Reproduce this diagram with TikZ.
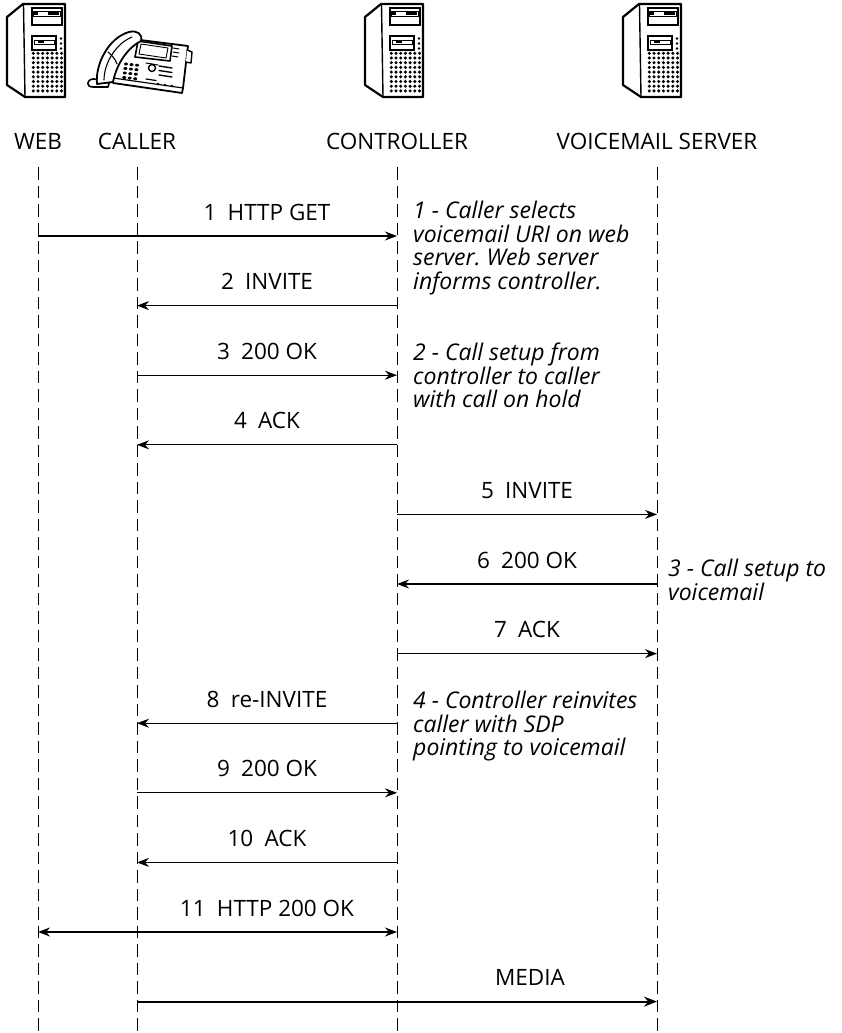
\documentclass[tikz,border=0pt]{standalone}
\usepackage{fontspec}
\setmainfont{Open Sans}
\usetikzlibrary{arrows.meta}
\frenchspacing

\tikzset{
  % tower server seen in three-quarter view, origin at its top left corner
  server/.pic={
    \fill[white] (0,14) -- (16,1) -- (58,1) -- (58,94) -- (18,94) -- (0,82) -- cycle;
    \draw[line width=2.2pt, line join=round] (0,14) -- (16,1) -- (58,1) -- (58,94) -- (18,94) -- (0,82) -- cycle;
    \draw[line width=1.4pt] (16.5,2) -- (18,94);
    % upper drive bay
    \draw[line width=1.4pt] (25,5) rectangle (55,22);
    \draw[line width=0.9pt] (26.5,8) rectangle (53.5,13);
    \fill (27,9) rectangle (31,12);
    \fill (41,9) rectangle (52,12);
    % lower drive bay
    \draw[line width=1.4pt] (25,33) rectangle (49,47);
    \draw[line width=0.9pt] (27,37.5) rectangle (47,41);
    \fill (31,38) rectangle (37,40.5);
    % buttons
    \fill (54,35.5) circle (1.3) (54,40.5) circle (1.3) (54,45.5) circle (1.3);
    % vent grid
    \foreach \i in {0,...,6}
      \foreach \j in {0,...,8}
        \fill ({26.3+\i*4.7},{50.3+\j*4.7}) circle (1.7);
  },
  lifeline/.style={line width=0.9pt, dash pattern=on 12.5pt off 6pt},
  msg/.style={line width=1.2pt, -{Stealth[length=12pt,width=9pt]}},
  msgboth/.style={line width=1.2pt, {Stealth[length=12pt,width=9pt]}-{Stealth[length=12pt,width=9pt]}},
  media/.style={line width=2pt, -{Stealth[length=13pt,width=10pt]}},
  head/.style={font=\fontsize{22.5}{25}\selectfont, anchor=base, inner sep=0},
  lbl/.style={font=\fontsize{22.5}{25}\selectfont, anchor=base, inner sep=0},
  note/.style={font=\fontsize{23}{23.5}\selectfont\itshape, align=left, anchor=north west, inner sep=0},
}

\begin{document}
\begin{tikzpicture}[x=1pt,y=-1pt]
\useasboundingbox (0,0) rectangle (842,1033);

% icons
\pic at (7,3) {server};
\pic at (365,3) {server};
\pic at (623,3) {server};

% desk phone
\begin{scope}[line join=round, line cap=round]
  % cord foot
  \filldraw[fill=white, line width=1.6pt] (93,79) .. controls (86,80) and (86,87) .. (93,87) -- (108,87) -- (110,80) -- cycle;
  % body
  \filldraw[fill=white, line width=1.8pt] (113,78) -- (124,38) -- (188,46) -- (183,88) -- (182,93) -- (113,83) -- cycle;
  \draw[line width=1.2pt] (113,78) -- (183,88);
  % side flap
  \filldraw[fill=white, line width=1.4pt] (187,50) -- (192,52) -- (191,63) -- (186,62);
  % screen
  \filldraw[fill=white, line width=1.6pt] (138,41) -- (172,46) -- (170,61) -- (135,57) -- cycle;
  \draw[line width=0.9pt] (141,44) -- (168,48) -- (166,58) -- (139,54) -- cycle;
  \draw[line width=1pt] (173,48) -- (179,49) (173,52) -- (179,53) (172,56) -- (178,57);
  % keypad
  \foreach \i in {0,1,2}
    \foreach \j in {0,1,2,3}
      \fill ({126+\i*5.5-\j*0.6},{64+\j*4.5+\i*0.6}) ellipse (2 and 1.5);
  % navigation key
  \draw[line width=1.4pt] (152,68) circle (3.5);
  \draw[line width=1pt] (146,63) -- (158,65);
  % soft keys
  \draw[line width=1.4pt] (159,66) -- (172,68) (159,70.5) -- (172,72.5) (159,75) -- (172,77);
  \fill (158,84) circle (1.4) (165,85) circle (1.4) (172,86) circle (1.4);
  \draw[line width=1.2pt] (146,79) -- (156,80.5);
  % handset
  \filldraw[fill=white, line width=1.8pt] (97,84) .. controls (95,65) and (108,38) .. (129,32)
     .. controls (137,30) and (143,34) .. (141,41) .. controls (129,47) and (117,62) .. (113,82) -- cycle;
  \draw[line width=1.1pt] (104,80) .. controls (104,64) and (115,44) .. (132,37);
  \draw[line width=1.1pt] (108,52) .. controls (112,56) and (115,58) .. (117,64);
\end{scope}

% participants
\node[head] (hweb) at (38,149) {WEB};
\node[head] (hcaller) at (137,149) {CALLER};
\node[head] (hctl) at (397,149) {CONTROLLER};
\node[head] (hvm) at (657,149) {VOICEMAIL SERVER};

% lifelines
\coordinate (web) at (38,167);    \coordinate (webend) at (38,1033);
\coordinate (caller) at (137,167); \coordinate (callerend) at (137,1033);
\coordinate (ctl) at (397,167);    \coordinate (ctlend) at (397,1033);
\coordinate (vm) at (657,167);     \coordinate (vmend) at (657,1033);
\draw[lifeline] (web) -- (webend);
\draw[lifeline] (caller) -- (callerend);
\draw[lifeline] (ctl) -- (ctlend);
\draw[lifeline] (vm) -- (vmend);

% message rows
\coordinate (r1) at (0,236);
\coordinate (r2) at (0,305.6);
\coordinate (r3) at (0,375.2);
\coordinate (r4) at (0,444.8);
\coordinate (r5) at (0,514.4);
\coordinate (r6) at (0,584);
\coordinate (r7) at (0,653.6);
\coordinate (r8) at (0,723.2);
\coordinate (r9) at (0,792.8);
\coordinate (r10) at (0,862.4);
\coordinate (r11) at (0,932);
\coordinate (r12) at (0,1001.6);

\draw[msg] (web |- r1) -- (ctl |- r1);
\draw[msg] (ctl |- r2) -- (caller |- r2);
\draw[msg] (caller |- r3) -- (ctl |- r3);
\draw[msg] (ctl |- r4) -- (caller |- r4);
\draw[msg] (ctl |- r5) -- (vm |- r5);
\draw[msg] (vm |- r6) -- (ctl |- r6);
\draw[msg] (ctl |- r7) -- (vm |- r7);
\draw[msg] (ctl |- r8) -- (caller |- r8);
\draw[msg] (caller |- r9) -- (ctl |- r9);
\draw[msg] (ctl |- r10) -- (caller |- r10);
\draw[msgboth] (web |- r11) -- (ctl |- r11);
\draw[media] (caller |- r12) -- (vm |- r12);

% message labels
\node[lbl] (l1) at (267,220) {1\hspace{0.5em}HTTP GET};
\node[lbl] (l2) at (267,289.6) {2\hspace{0.5em}INVITE};
\node[lbl] (l3) at (267,359.2) {3\hspace{0.5em}200 OK};
\node[lbl] (l4) at (267,428.8) {4\hspace{0.5em}ACK};
\node[lbl] (l5) at (527,498.4) {5\hspace{0.5em}INVITE};
\node[lbl] (l6) at (527,568) {6\hspace{0.5em}200 OK};
\node[lbl] (l7) at (527,637.6) {7\hspace{0.5em}ACK};
\node[lbl] (l8) at (267,707.2) {8\hspace{0.5em}re-INVITE};
\node[lbl] (l9) at (267,776.8) {9\hspace{0.5em}200 OK};
\node[lbl] (l10) at (267,846.4) {10\hspace{0.5em}ACK};
\node[lbl] (l11) at (267,916) {11\hspace{0.5em}HTTP 200 OK};
\node[lbl] (l12) at (530,985.6) {MEDIA};

% annotations
\node[note] (n1) at (413,201) {1 - Caller selects\\voicemail URI on web\\server. Web server\\informs controller.};
\node[note] (n2) at (413,343) {2 - Call setup from\\controller to caller\\with call on hold};
\node[note] (n3) at (668,559) {3 - Call setup to\\voicemail};
\node[note] (n4) at (413,691) {4 - Controller reinvites\\caller with SDP\\pointing to voicemail};
\end{tikzpicture}
\end{document}
